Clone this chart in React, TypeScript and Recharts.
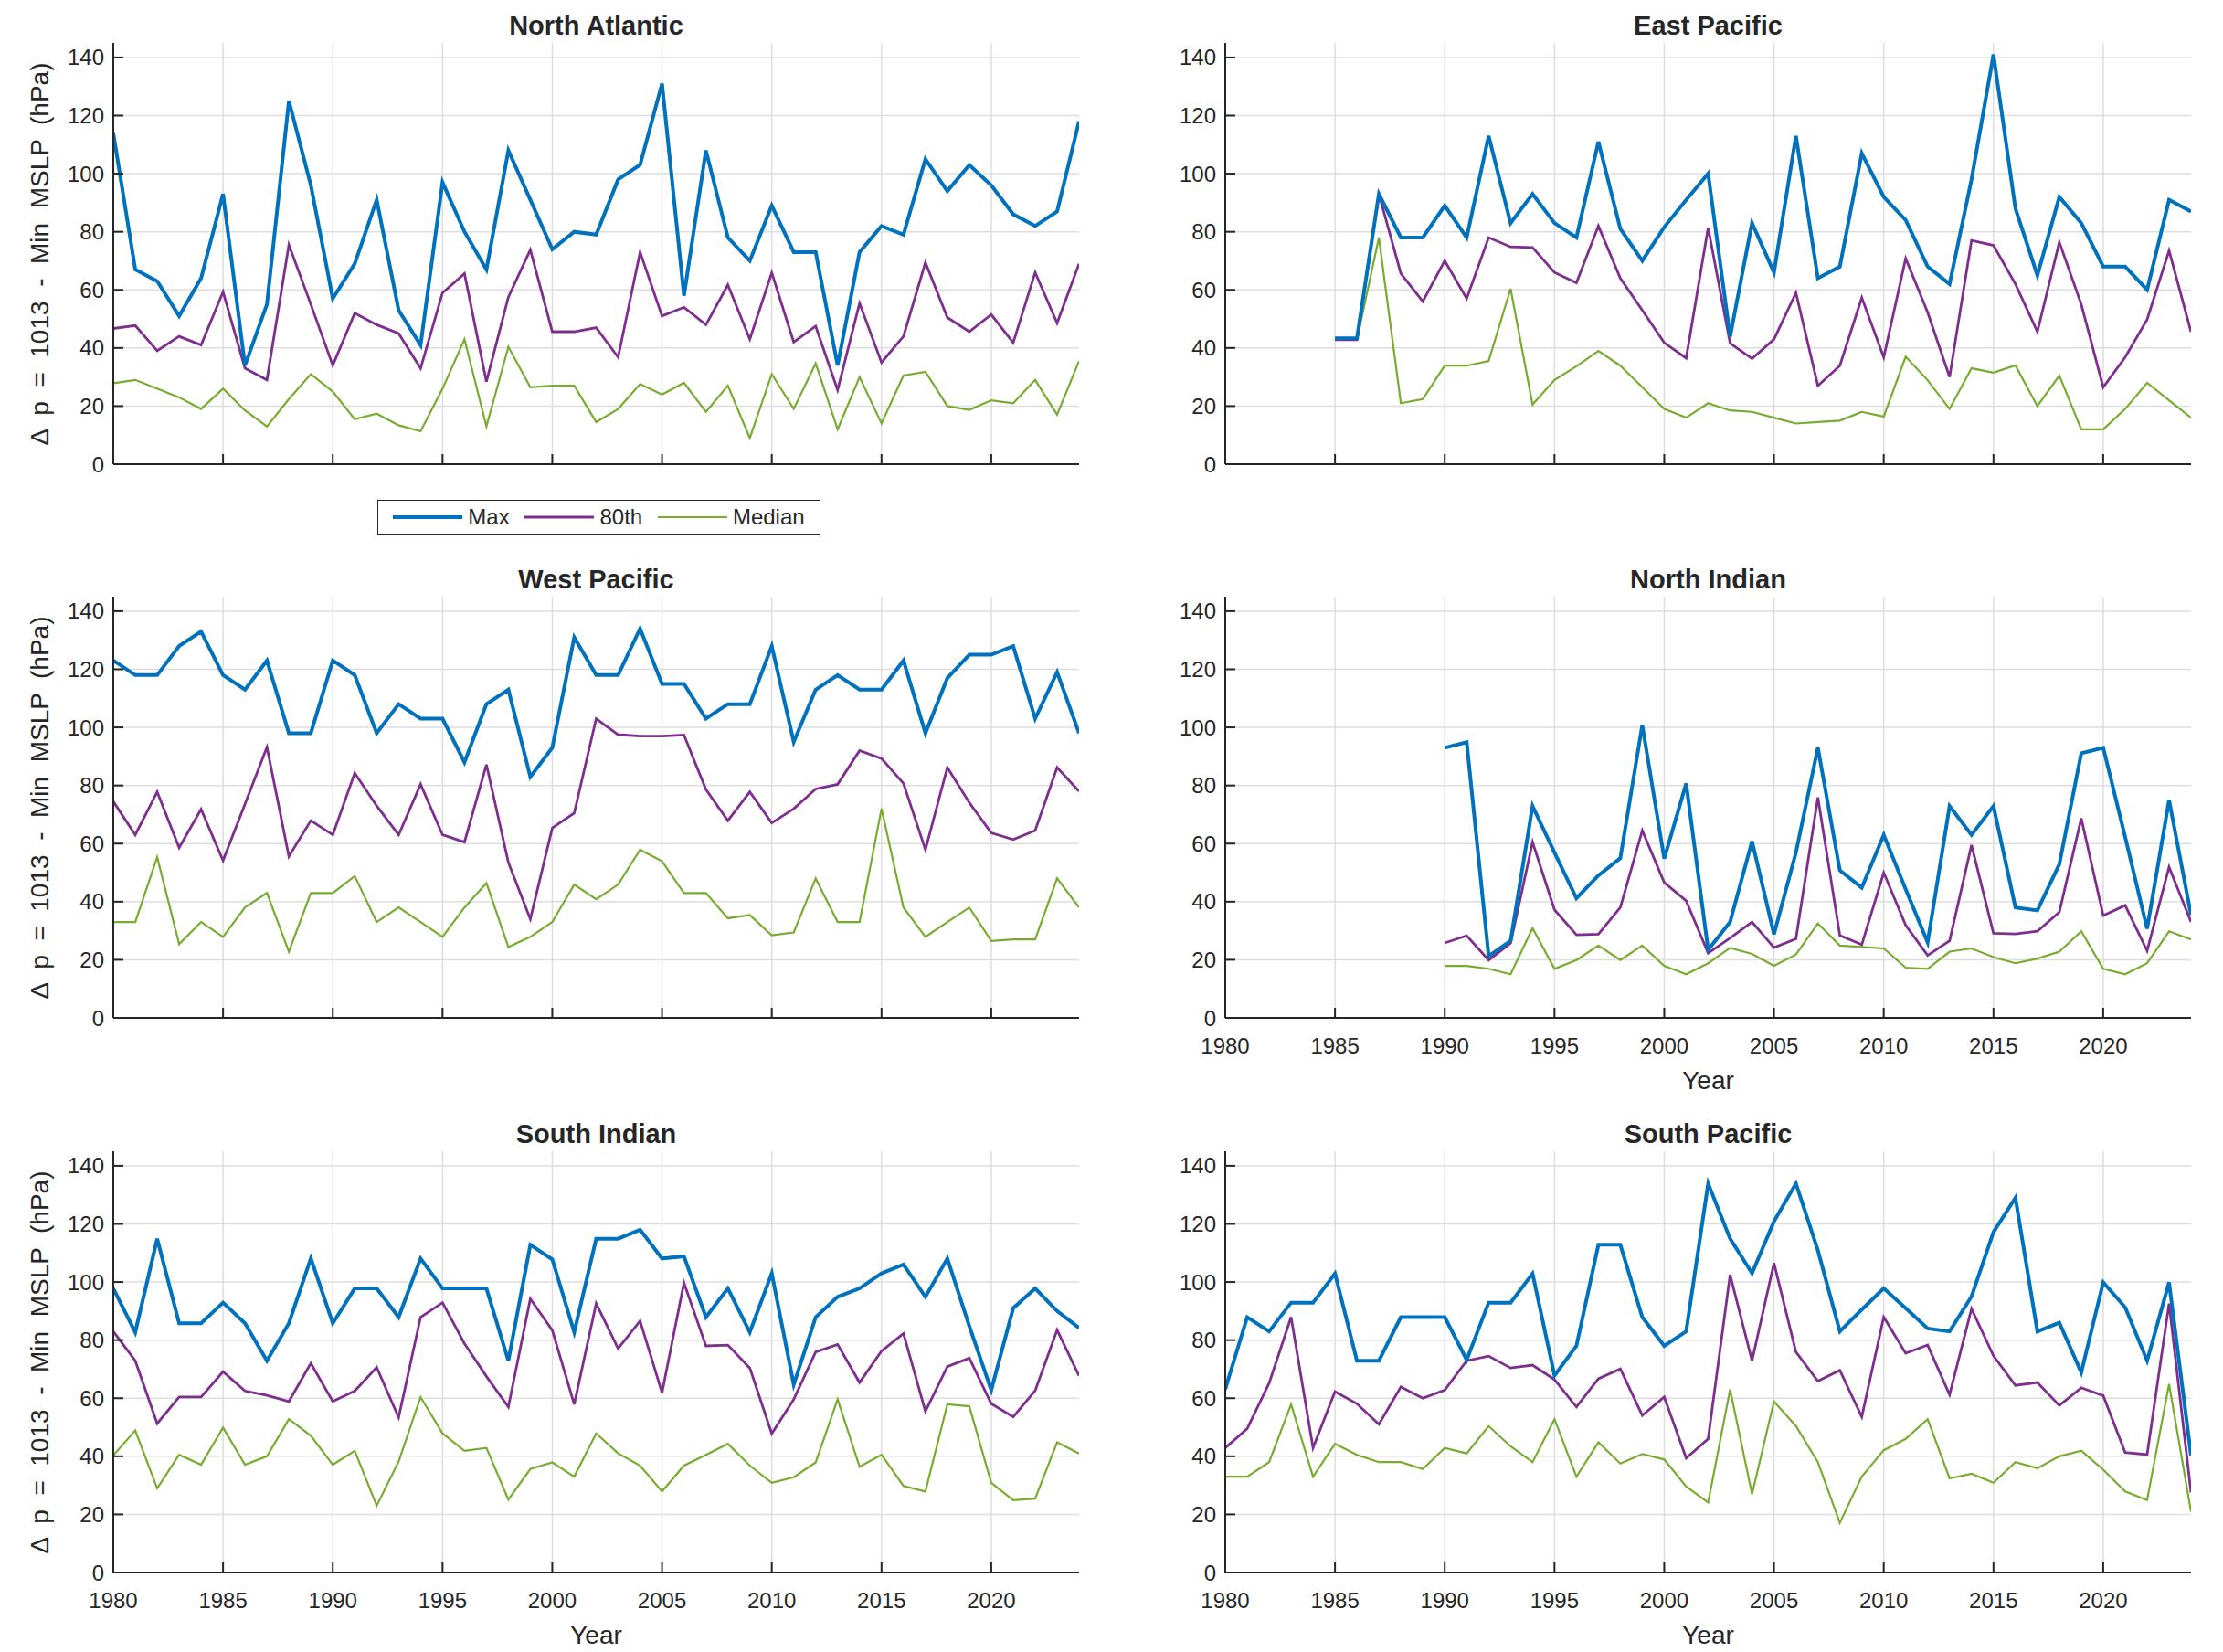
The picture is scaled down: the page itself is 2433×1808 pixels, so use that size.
import React from 'react';
import { LineChart, Line, XAxis, YAxis, CartesianGrid } from 'recharts';

// categories
const yearsAll = [
  1980, 1981, 1982, 1983, 1984, 1985, 1986, 1987, 1988, 1989,
  1990, 1991, 1992, 1993, 1994, 1995, 1996, 1997, 1998, 1999,
  2000, 2001, 2002, 2003, 2004, 2005, 2006, 2007, 2008, 2009,
  2010, 2011, 2012, 2013, 2014, 2015, 2016, 2017, 2018, 2019,
  2020, 2021, 2022, 2023, 2024,
];
const yearsEP = [
  1985, 1986, 1987, 1988, 1989,
  1990, 1991, 1992, 1993, 1994, 1995, 1996, 1997, 1998, 1999,
  2000, 2001, 2002, 2003, 2004, 2005, 2006, 2007, 2008, 2009,
  2010, 2011, 2012, 2013, 2014, 2015, 2016, 2017, 2018, 2019,
  2020, 2021, 2022, 2023, 2024,
];
const yearsNI = [
  1990, 1991, 1992, 1993, 1994, 1995, 1996, 1997, 1998, 1999,
  2000, 2001, 2002, 2003, 2004, 2005, 2006, 2007, 2008, 2009,
  2010, 2011, 2012, 2013, 2014, 2015, 2016, 2017, 2018, 2019,
  2020, 2021, 2022, 2023, 2024,
];
const yearTicks = [1980, 1985, 1990, 1995, 2000, 2005, 2010, 2015, 2020];
const valueTicks = [0, 20, 40, 60, 80, 100, 120, 140];

// North Atlantic
const naMax = [114, 67, 63, 51, 64, 93, 34, 55, 125, 96, 57, 69, 91, 53, 41, 97, 80, 67, 108, 91, 74, 80, 79, 98, 103, 131, 58, 108, 78, 70, 89, 73, 73, 34, 73, 82, 79, 105, 94, 103, 96, 86, 82, 87, 118];
const na80 = [46.7, 47.7, 39, 44, 41, 59.3, 33, 29, 75.5, 55, 34, 52, 48, 45, 33, 59, 65.6, 28.4, 57.5, 73.8, 45.6, 45.6, 47, 36.8, 73, 51, 54, 48, 61.7, 43, 65.9, 42, 47.5, 25.5, 55.4, 35, 44, 69.4, 50.5, 45.6, 51.5, 41.8, 66, 48.6, 69];
const naMedian = [27.9, 29, 26, 23, 19, 26, 18.5, 13, 22.4, 31, 25, 15.5, 17.4, 13.4, 11.3, 26, 43, 13, 40.4, 26.5, 27, 27, 14.5, 19, 27.6, 24, 28, 18, 27, 9, 31, 19, 34.7, 12, 30, 14, 30.5, 31.8, 20, 18.7, 22, 21, 29, 17, 35.5];

// East Pacific (from 1985)
const epMax = [43.3, 43.3, 93, 78, 78, 89, 78, 113, 83, 93, 83, 78, 111, 81, 70, 81.6, 91, 100, 43.9, 83, 66, 113, 64, 68, 107, 92, 84, 68, 62, 98, 141, 88, 65, 92, 83, 68, 68, 60, 91, 87];
const ep80 = [42.8, 42.8, 93, 65.6, 56, 70, 57, 78, 74.8, 74.6, 66, 62.4, 82, 64, 53, 41.8, 36.5, 81.4, 41.6, 36.3, 43, 59, 27, 33.9, 57.3, 36.8, 70.8, 52.3, 30, 77, 75.3, 62, 45.6, 76.4, 55, 26.5, 36.8, 49.8, 73.5, 45.6];
const epMedian = [42.8, 42.8, 78, 21, 22.4, 33.9, 33.9, 35.5, 60.4, 20.5, 29, 33.7, 39, 33.9, 26.5, 19, 16, 21, 18.5, 18, 16, 14, 14.5, 15, 18, 16.4, 37, 28.9, 19, 33, 31.5, 34, 20, 30.5, 12, 12, 19, 28, 22, 16];

// West Pacific
const wpMax = [123, 118, 118, 128, 133, 118, 113, 123, 98, 98, 123, 118, 98, 108, 103, 103, 88, 108, 113, 83, 93, 131, 118, 118, 134, 115, 115, 103, 108, 108, 128, 95, 113, 118, 113, 113, 123, 98, 117, 125, 125, 128, 103, 119, 98];
const wp80 = [74.5, 63, 77.8, 58.6, 71.8, 54.2, 73.6, 93.2, 55.6, 67.9, 63, 84.3, 73, 63, 80.4, 63, 60.5, 87.2, 53.5, 34, 65.4, 70.5, 103, 97.5, 97, 97, 97.4, 78.6, 67.9, 77.8, 67.1, 72, 78.8, 80.4, 92, 89.3, 80.7, 57.9, 86.2, 74.1, 63.7, 61.4, 64.5, 86.2, 78];
const wpMedian = [33, 33, 55.3, 25.4, 33, 27.9, 38, 43, 22.8, 43, 43, 48.8, 33, 38, 33, 27.9, 38, 46.4, 24.4, 27.9, 33, 45.9, 40.8, 45.9, 57.9, 53.9, 43, 43, 34.3, 35.4, 28.4, 29.4, 48, 33, 33, 72, 38, 27.9, 33, 38, 26.5, 27, 27, 48, 38];

// North Indian (from 1990)
const niMax = [93, 94.9, 21.3, 26.5, 72.9, 56.9, 41.2, 49, 55, 100.8, 54.8, 80.7, 23.4, 33, 60.8, 28.8, 56.9, 93, 50.8, 44.8, 63, 44.3, 26, 72.9, 63, 72.9, 38, 37, 52.9, 91.1, 93, 62.3, 30.7, 75, 35.4];
const ni80 = [25.8, 28.3, 19.9, 25.7, 60.5, 37.2, 28.6, 28.8, 38, 64.5, 46.6, 40.3, 22.3, 27.5, 33, 24.2, 27.2, 75.9, 28.4, 25.2, 50, 31.9, 21.5, 26.5, 59.5, 29.1, 28.9, 29.8, 36.4, 68.7, 35.2, 38.7, 23.1, 51.9, 33];
const niMedian = [17.9, 17.9, 16.9, 15, 30.9, 16.9, 19.9, 24.9, 19.9, 24.9, 17.9, 15, 18.8, 24.1, 22, 17.9, 21.8, 32.5, 24.9, 24.4, 23.9, 17.3, 16.9, 22.8, 23.9, 20.9, 18.8, 20.4, 22.8, 29.8, 16.9, 15, 18.8, 29.8, 27];

// South Indian
const siMax = [97.8, 82.7, 114.9, 85.8, 85.8, 92.9, 85.8, 72.9, 85.8, 108.1, 85.8, 97.8, 97.8, 87.9, 108.1, 97.8, 97.8, 97.8, 72.9, 112.8, 107.8, 82.7, 114.9, 114.9, 118, 108.1, 108.8, 87.9, 97.8, 82.7, 103, 64.7, 87.9, 94.9, 97.8, 103, 106, 94.9, 108.1, 84.8, 62.8, 91, 97.8, 90, 84.2];
const si80 = [83, 72.9, 51.3, 60.4, 60.4, 69.1, 62.5, 61, 58.9, 72, 58.9, 62.5, 70.6, 53.4, 87.9, 92.9, 78.8, 67.5, 57, 94.2, 83.4, 57.9, 92.6, 77.1, 86.6, 61.9, 99.7, 78, 78.3, 70.4, 47.8, 59.6, 75.9, 78.5, 65.4, 76.2, 82.3, 55.5, 70.9, 73.8, 58.1, 53.6, 62.6, 83.5, 67.7];
const siMedian = [40.3, 48.9, 29, 40.5, 37.1, 49.9, 37.1, 40, 52.8, 47.1, 37.1, 41.9, 23, 38.2, 60.4, 47.9, 41.9, 42.9, 25.1, 35.6, 37.9, 33, 47.9, 41, 36.8, 27.9, 36.8, 40.5, 44.3, 36.8, 30.9, 32.8, 37.9, 59.6, 36.4, 40.5, 29.8, 27.9, 57.9, 57.2, 30.9, 24.9, 25.4, 44.8, 41];

// South Pacific
const spMax = [63.1, 87.9, 83, 92.9, 92.9, 102.9, 72.9, 72.9, 87.9, 87.9, 87.9, 73.2, 92.9, 92.9, 102.9, 67.8, 78, 112.8, 112.8, 87.9, 78, 83, 133.9, 114.9, 103, 120.9, 133.9, 110.9, 83, 90.5, 97.8, 91, 84, 83, 95, 117.2, 129, 83, 86, 68.9, 99.9, 91.3, 72.9, 99.9, 40.3];
const sp80 = [42.9, 49.5, 65.2, 87.9, 42.9, 62.3, 58.1, 51, 63.9, 60, 62.8, 72.9, 74.5, 70.4, 71.4, 66.4, 57, 66.7, 70.1, 54.1, 60.4, 39.4, 46, 102.5, 72.9, 106.5, 75.9, 65.9, 69.6, 53.6, 87.9, 75.5, 78.3, 61.2, 90.8, 74.6, 64.4, 65.4, 57.5, 63.6, 60.9, 41.3, 40.6, 92.6, 27.5];
const spMedian = [33, 33, 38, 57.9, 33, 44.3, 40.5, 38, 38, 35.6, 42.9, 41, 50.4, 43.4, 38, 52.8, 33, 44.8, 37.5, 40.8, 38.9, 29.6, 24.1, 63, 27, 58.9, 50.4, 38, 17.1, 33, 42.1, 46, 52.8, 32.4, 34, 30.9, 38, 35.9, 40, 41.9, 35.4, 27.9, 24.9, 64.9, 20.9];

const FONT = '"Liberation Sans", Arial, Helvetica, sans-serif';
const INK = '#262626';
const BLUE = '#0072BD';
const PURPLE = '#7E2F8E';
const GREEN = '#77AC30';
const Y_MAX = 145;

const toRows = (years: number[], max: number[], p80: number[], median: number[]) =>
  years.map((year, i) => ({ year, max: max[i], p80: p80[i], median: median[i] }));

const PLOT_W = 1057;
const PLOT_H = 461;
const Y_AXIS_W = 80;
const X_AXIS_H = 64;
const TICK = 11;
const TICK_FONT = 24;
const LABEL_FONT = 28;

// grid only at the inner ticks, no frame on top / right (matlab "box off")
const hGrid = ({ yAxis, offset }: any) =>
  valueTicks
    .filter((v) => v > 0)
    .map((v) =>
      yAxis && typeof yAxis.scale === 'function'
        ? yAxis.scale(v)
        : offset.top + offset.height * (1 - v / Y_MAX),
    );
const vGrid = ({ xAxis, offset }: any) =>
  yearTicks
    .filter((v) => v > 1980)
    .map((v) =>
      xAxis && typeof xAxis.scale === 'function'
        ? xAxis.scale(v)
        : offset.left + (offset.width * (v - 1980)) / 44,
    );

const panels = [
  { title: 'North Atlantic', rows: toRows(yearsAll, naMax, na80, naMedian), left: 124, top: 47, xLabels: false, yLabel: true },
  { title: 'East Pacific', rows: toRows(yearsEP, epMax, ep80, epMedian), left: 1341, top: 47, xLabels: false, yLabel: false },
  { title: 'West Pacific', rows: toRows(yearsAll, wpMax, wp80, wpMedian), left: 124, top: 653, xLabels: false, yLabel: true },
  { title: 'North Indian', rows: toRows(yearsNI, niMax, ni80, niMedian), left: 1341, top: 653, xLabels: true, yLabel: false },
  { title: 'South Indian', rows: toRows(yearsAll, siMax, si80, siMedian), left: 124, top: 1260, xLabels: true, yLabel: true },
  { title: 'South Pacific', rows: toRows(yearsAll, spMax, sp80, spMedian), left: 1341, top: 1260, xLabels: true, yLabel: false },
];

type PanelProps = (typeof panels)[number];

const Panel: React.FC<PanelProps> = ({ title, rows, left, top, xLabels, yLabel }) => {
  const chartW = PLOT_W + Y_AXIS_W + 20;
  const chartH = PLOT_H + 10 + X_AXIS_H + 5;
  return (
    <>
      <div
        style={{
          position: 'absolute', left, top: top - 36, width: PLOT_W, textAlign: 'center',
          fontFamily: FONT, fontWeight: 'bold', fontSize: 29, color: INK, lineHeight: '34px',
        }}
      >
        {title}
      </div>
      {yLabel && (
        <div
          style={{
            position: 'absolute', left: 44 - 300, top: top + PLOT_H / 2 - 17, width: 600, textAlign: 'center',
            transform: 'rotate(-90deg)', fontFamily: FONT, fontSize: LABEL_FONT, color: INK, lineHeight: '34px',
            whiteSpace: 'pre',
          }}
        >
          {'Δ  p  =  1013  -  Min  MSLP  (hPa)'}
        </div>
      )}
      {xLabels && (
        <div
          style={{
            position: 'absolute', left, top: top + PLOT_H + 52, width: PLOT_W, textAlign: 'center',
            fontFamily: FONT, fontSize: LABEL_FONT, color: INK, lineHeight: '34px',
          }}
        >
          Year
        </div>
      )}
      <div style={{ position: 'absolute', left: left - Y_AXIS_W, top: top - 10 }}>
        <LineChart width={chartW} height={chartH} data={rows} margin={{ top: 10, right: 20, bottom: 5, left: 0 }}>
          <CartesianGrid
            stroke="#dedede"
            strokeWidth={1.5}
            horizontalCoordinatesGenerator={hGrid}
            verticalCoordinatesGenerator={vGrid}
          />
          <XAxis
            dataKey="year"
            type="number"
            domain={[1980, 2024]}
            ticks={yearTicks}
            allowDataOverflow
            height={X_AXIS_H}
            tickSize={-TICK}
            tickMargin={TICK + 22}
            axisLine={{ stroke: INK, strokeWidth: 2 }}
            tickLine={{ stroke: INK, strokeWidth: 2 }}
            tick={{ fill: INK, fontSize: TICK_FONT, fontFamily: FONT }}
            tickFormatter={(v) => (xLabels ? String(v) : '')}
            interval={0}
          />
          <YAxis
            type="number"
            domain={[0, Y_MAX]}
            ticks={valueTicks}
            allowDataOverflow
            width={Y_AXIS_W}
            tickSize={-TICK}
            tickMargin={TICK + 10}
            axisLine={{ stroke: INK, strokeWidth: 2 }}
            tickLine={{ stroke: INK, strokeWidth: 2 }}
            tick={{ fill: INK, fontSize: TICK_FONT, fontFamily: FONT }}
            interval={0}
          />
          <Line dataKey="median" stroke={GREEN} strokeWidth={2.2} dot={false} isAnimationActive={false} />
          <Line dataKey="p80" stroke={PURPLE} strokeWidth={2.8} dot={false} isAnimationActive={false} />
          <Line dataKey="max" stroke={BLUE} strokeWidth={4} dot={false} isAnimationActive={false} />
        </LineChart>
      </div>
    </>
  );
};

const legendItems = [
  { label: 'Max', color: BLUE, width: 4 },
  { label: '80th', color: PURPLE, width: 2.8 },
  { label: 'Median', color: GREEN, width: 2.2 },
];

const App: React.FC = () => (
  <div style={{ position: 'absolute', left: 0, top: 0, width: 2433, height: 1808, background: '#fff' }}>
    {panels.map((p) => (
      <Panel key={p.title} {...p} />
    ))}
    <div
      style={{
        position: 'absolute', left: 413, top: 547, width: 485, height: 38, boxSizing: 'border-box',
        border: `1.5px solid ${INK}`, background: '#fff', display: 'flex', alignItems: 'center',
        justifyContent: 'space-around', fontFamily: FONT, fontSize: TICK_FONT, color: INK, padding: '0 8px',
      }}
    >
      {legendItems.map((it) => (
        <div key={it.label} style={{ display: 'flex', alignItems: 'center' }}>
          <svg width={76} height={10} style={{ marginRight: 6 }}>
            <line x1={0} x2={76} y1={5} y2={5} stroke={it.color} strokeWidth={it.width} />
          </svg>
          <span>{it.label}</span>
        </div>
      ))}
    </div>
  </div>
);

export default App;
